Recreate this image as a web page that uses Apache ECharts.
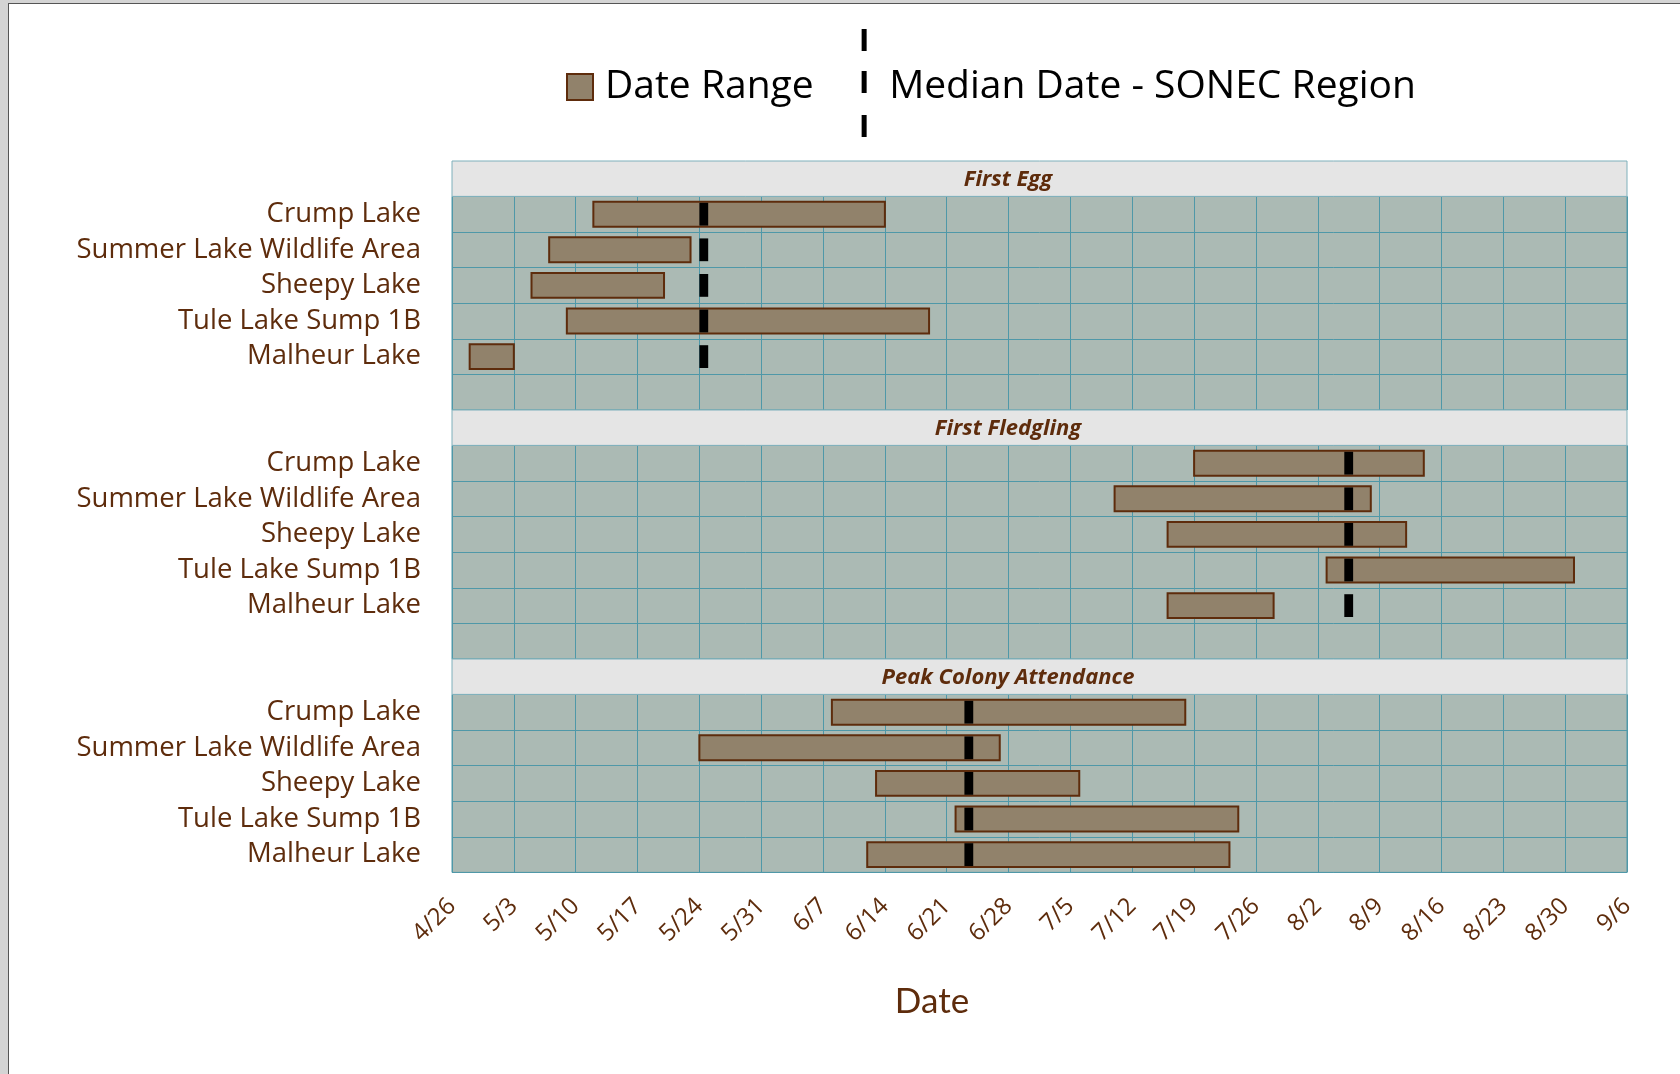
<!DOCTYPE html>
<html>
<head>
<meta charset="utf-8">
<title>Nesting dates</title>
<script src="https://cdn.jsdelivr.net/npm/echarts@6/dist/echarts.min.js"></script>
<style>
  html, body { margin: 0; padding: 0; background: #d4d4d4; }
  #frame {
    position: absolute; left: 8px; top: 3px; right: 0; bottom: 0;
    background: #fff; border-left: 1px solid #555; border-top: 1px solid #555;
  }
  #chart { position: absolute; left: 0; top: 0; width: 1680px; height: 1074px; }
</style>
</head>
<body>
<div id="frame"></div>
<div id="chart"></div>
<script>
// ticks every 7 days, starting at 4/26
const tickLabels = ['4/26', '5/3', '5/10', '5/17', '5/24', '5/31', '6/7', '6/14', '6/21', '6/28',
  '7/5', '7/12', '7/19', '7/26', '8/2', '8/9', '8/16', '8/23', '8/30', '9/6']

const sites = ['Crump Lake', 'Summer Lake Wildlife Area', 'Sheepy Lake', 'Tule Lake Sump 1B', 'Malheur Lake']
const panelNames = ['First Egg', 'First Fledgling', 'Peak Colony Attendance']

// date ranges per site (same order as sites)
const eggStart = ['5/12', '5/7', '5/5', '5/9', '4/28']
const eggEnd = ['6/14', '5/23', '5/20', '6/19', '5/3']
const fledgeStart = ['7/19', '7/10', '7/16', '8/3', '7/16']
const fledgeEnd = ['8/14', '8/8', '8/12', '8/31', '7/28']
const peakStart = ['6/8', '5/24', '6/13', '6/22', '6/12']
const peakEnd = ['7/18', '6/27', '7/6', '7/24', '7/23']

// median date for the SONEC region, per panel
const medians = ['5/24', '8/5', '6/23']

const BROWN = '#5e2c0c'
const BAR_FILL = '#91826b'
const PLOT_BG = '#abbab4'
const GRID_LINE = '#4f98a8'
const FONT = '"Open Sans"'

// days since 4/26
function day(s) {
  const [m, d] = s.split('/').map(Number)
  return Math.round((Date.UTC(2000, m - 1, d) - Date.UTC(2000, 3, 26)) / 86400000)
}

const starts = [eggStart, fledgeStart, peakStart]
const ends = [eggEnd, fledgeEnd, peakEnd]

// layout
const LEFT = 452, WIDTH = 1175
const ROW = 35.6, HEAD = 35.4
const rowsPerPanel = [6, 6, 5]
const gridTops = []
let y = 161
rowsPerPanel.forEach(n => {
  gridTops.push(y + HEAD)
  y += HEAD + n * ROW
})

function renderRange(params, api) {
  const c = api.value(2)
  const p0 = api.coord([api.value(0), c])
  const p1 = api.coord([api.value(1), c])
  const h = api.size([0, 1])[1] * 0.7
  return {
    type: 'rect',
    shape: { x: p0[0], y: p0[1] - h / 2, width: p1[0] - p0[0], height: h },
    style: { fill: BAR_FILL, stroke: BROWN, lineWidth: 2 }
  }
}

function renderMedian(params, api) {
  const c = api.value(1)
  const d = api.value(0)
  const p0 = api.coord([d, c])
  const p1 = api.coord([d + 1, c])
  const h = api.size([0, 1])[1] * 0.64
  return {
    type: 'rect',
    shape: { x: p0[0], y: p0[1] - h / 2, width: p1[0] - p0[0], height: h },
    style: { fill: '#000' }
  }
}

const grids = [], xAxes = [], yAxes = [], series = [], graphics = []

panelNames.forEach((name, i) => {
  const cats = rowsPerPanel[i] > sites.length ? sites.concat(['']) : sites.slice()
  grids.push({
    left: LEFT, width: WIDTH, top: gridTops[i], height: rowsPerPanel[i] * ROW,
    show: true, backgroundColor: PLOT_BG, borderColor: GRID_LINE, borderWidth: 1
  })
  const last = i === panelNames.length - 1
  xAxes.push({
    gridIndex: i, type: 'value', min: 0, max: 133, interval: 7,
    axisLine: { show: false }, axisTick: { show: false },
    splitLine: { show: true, lineStyle: { color: GRID_LINE, width: 1 } },
    axisLabel: {
      show: last, rotate: 45, margin: 30, fontSize: 24, color: BROWN, fontFamily: FONT,
      formatter: v => tickLabels[Math.round(v / 7)]
    },
    name: last ? 'Date' : '', nameLocation: 'middle', nameGap: 112,
    nameTextStyle: { fontSize: 35, color: BROWN, fontFamily: 'Lato', padding: [0, 215, 0, 0] }
  })
  yAxes.push({
    gridIndex: i, type: 'category', data: cats, inverse: true,
    axisLine: { show: false }, axisTick: { show: false },
    splitLine: { show: true, interval: 0, lineStyle: { color: GRID_LINE, width: 1 } },
    axisLabel: { interval: 0, fontSize: 27.5, color: BROWN, fontFamily: FONT, margin: 31 }
  })
  series.push({
    name: 'Date Range', type: 'custom', xAxisIndex: i, yAxisIndex: i,
    renderItem: renderRange,
    itemStyle: { color: BAR_FILL, borderColor: BROWN, borderWidth: 2 },
    encode: { x: [0, 1], y: 2 },
    data: sites.map((s, k) => [day(starts[i][k]), day(ends[i][k]), k])
  })
  series.push({
    name: 'Median Date - SONEC Region', type: 'custom', xAxisIndex: i, yAxisIndex: i,
    renderItem: renderMedian, z: 5,
    itemStyle: { color: '#000' },
    encode: { x: 0, y: 1 },
    data: sites.map((s, k) => [day(medians[i]), k])
  })
  const hy = gridTops[i] - HEAD
  graphics.push({
    type: 'rect', z: 10,
    shape: { x: LEFT, y: hy, width: WIDTH, height: HEAD },
    style: { fill: '#e5e5e5', stroke: '#7fb0bb', lineWidth: 1 }
  })
  graphics.push({
    type: 'text', z: 11, x: 1008, y: hy + HEAD / 2 + 1,
    style: {
      text: name, fill: BROWN, fontSize: 22, fontWeight: 'bold', fontStyle: 'italic',
      fontFamily: FONT, align: 'center', verticalAlign: 'middle'
    }
  })
})

const chart = echarts.init(document.getElementById('chart'))
chart.setOption({
  animation: false,
  legend: {
    left: 561, top: 24, itemWidth: 26, itemHeight: 116, itemGap: 48, selectedMode: false,
    textStyle: { fontSize: 39, color: '#000', fontFamily: FONT, padding: [0, 0, 0, 7] },
    data: [
      { name: 'Date Range', icon: 'path://M0,0h10v10h-10z',
        itemStyle: { color: BAR_FILL, borderColor: BROWN, borderWidth: 2 } },
      { name: 'Median Date - SONEC Region',
        // three dashes, plus a tiny dot below so the dashes sit a bit high
        icon: 'path://M0,0h5v22h-5z M0,42h5v22h-5z M0,86h5v22h-5z M2,116h0.01v0.01h-0.01z',
        itemStyle: { color: '#000', borderWidth: 0 } }
    ]
  },
  grid: grids,
  xAxis: xAxes,
  yAxis: yAxes,
  series: series,
  graphic: graphics
})
</script>
</body>
</html>
